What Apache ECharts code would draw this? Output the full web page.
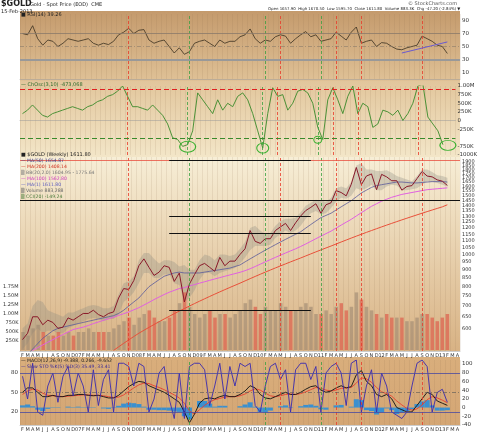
<!DOCTYPE html><html><head><meta charset="utf-8">
<script src="https://cdn.jsdelivr.net/npm/echarts@6/dist/echarts.min.js"></script>
<style>html,body{margin:0;padding:0;background:#fff}#c{width:480px;height:433px}</style></head><body><div id="c"></div>
<script>
const cats=["F","M","A","M","J","J","A","S","O","N","D",
"07","F","M","A","M","J","J","A","S","O","N","D",
"08","F","M","A","M","J","J","A","S","O","N","D",
"09","F","M","A","M","J","J","A","S","O","N","D",
"10","F","M","A","M","J","J","A","S","O","N","D",
"11","F","M","A","M","J","J","A","S","O","N","D",
"12","F","M","A","M","J","J","A","S","O","N","D",
"13","F","M","A"];
const price=[555,580,650,650,615,635,625,600,605,645,635,
650,665,665,680,660,650,665,672,740,790,785,835,
925,970,915,865,885,925,915,830,880,720,815,870,
925,940,915,890,980,925,955,955,1000,1040,1180,1095,
1080,1115,1115,1180,1210,1240,1180,1245,1305,1355,1385,1420,
1330,1410,1430,1555,1535,1500,1625,1825,1620,1720,1745,1565,
1740,1710,1665,1665,1560,1600,1610,1690,1775,1720,1710,1675,
1660,1611.8];
const bandUpper=[600,620,700,730,720,680,670,660,650,670,670,
680,690,700,705,700,690,690,700,760,820,830,860,
960,1010,1010,970,940,960,960,950,920,930,900,900,
960,1000,990,960,1000,1000,990,1000,1040,1090,1200,1220,
1180,1150,1160,1220,1260,1280,1280,1290,1340,1400,1430,1460,
1450,1440,1480,1580,1600,1580,1650,1850,1880,1800,1800,1780,
1780,1790,1760,1720,1700,1680,1660,1720,1800,1800,1770,1730,
1720,1700];
const bandLower=[520,540,580,600,580,590,590,580,580,600,610,
620,630,640,645,640,630,640,640,660,720,740,770,
820,880,880,850,850,870,870,820,810,720,740,780,
840,880,880,860,880,890,900,910,940,980,1030,1060,
1060,1060,1070,1120,1150,1180,1160,1180,1220,1280,1330,1350,
1320,1330,1380,1440,1480,1470,1500,1580,1560,1580,1620,1560,
1560,1600,1620,1610,1560,1560,1570,1580,1620,1660,1650,1640,
1620,1600];
const ma50=[480,500,520,540,560,575,590,600,605,610,615,
620,625,630,635,640,645,650,655,665,680,700,720,
740,770,800,820,840,860,870,880,885,880,880,880,
880,885,890,895,900,905,910,920,930,950,970,990,
1010,1030,1050,1070,1090,1110,1130,1150,1170,1200,1230,1260,
1290,1310,1330,1360,1390,1420,1450,1490,1530,1560,1590,1610,
1620,1630,1640,1650,1650,1645,1640,1640,1645,1650,1655,1655,
1655,1650];
const ma100=[null,null,515,525,535,545,555,565,575,585,595,
600,605,612,620,627,634,641,648,656,664,672,682,
692,705,718,732,745,758,770,780,790,795,805,812,
820,828,836,844,852,860,868,876,884,894,906,920,
935,950,965,980,995,1010,1025,1040,1057,1075,1095,1115,
1135,1155,1175,1200,1225,1250,1275,1305,1335,1365,1395,1420,
1445,1465,1485,1500,1515,1525,1535,1545,1555,1565,1570,1575,
1580,1585];
const ma200=[null,null,null,null,null,null,null,null,null,null,null,
null,null,null,null,null,null,null,515,528,541,554,567,
580,592,604,616,628,640,652,664,676,688,700,712,
724,736,748,760,772,784,796,808,820,833,846,859,
872,885,898,911,924,937,950,963,976,990,1004,1018,
1032,1046,1060,1075,1090,1105,1120,1135,1150,1165,1180,1195,
1210,1225,1240,1255,1270,1285,1300,1315,1330,1345,1360,1375,
1390,1410];
const volume=[0.5,0.4,0.6,0.7,0.5,0.4,0.4,0.5,0.4,0.5,0.4,
0.5,0.5,0.6,0.5,0.5,0.5,0.5,0.6,0.7,0.8,0.9,0.7,
0.9,1.0,1.1,0.9,0.8,0.8,0.9,1.1,1.3,1.6,1.2,1.0,
0.9,1.0,1.1,0.9,1.0,1.0,0.9,1.0,1.1,1.3,1.4,1.2,
1.0,1.2,1.1,1.1,1.3,1.2,1.1,1.1,1.2,1.3,1.2,1.0,
1.0,1.1,1.0,1.2,1.3,1.1,1.2,1.6,1.4,1.2,1.1,1.0,
0.9,1.0,0.9,0.9,0.9,0.8,0.8,0.9,1.0,1.0,0.9,0.8,
0.9,1.0];
const rsi=[70,68,82,62,52,60,58,50,55,62,60,
58,60,62,55,52,55,53,58,68,72,78,70,
75,76,60,55,58,60,50,40,48,38,42,55,
58,60,55,50,60,55,58,58,65,68,77,62,
55,60,58,65,68,66,55,62,68,73,65,68,
58,60,62,72,66,60,72,80,55,58,60,50,
56,55,50,46,45,48,50,52,66,62,58,52,
50,39.26];
const chosc=[200,300,450,300,150,100,200,250,300,350,400,
350,300,400,450,550,600,700,750,850,1000,700,400,
400,350,300,450,300,150,-100,-500,-550,-750,-700,-300,
800,600,400,200,600,300,500,400,700,800,600,200,
-300,-800,200,950,700,750,300,500,850,900,800,500,
-200,-550,600,950,600,200,700,1000,200,500,400,-200,
-100,300,250,150,300,0,200,500,1000,1050,100,-100,
-300,-700];
const sto=[75,40,95,20,15,60,80,35,75,90,45,
80,60,20,85,30,70,85,20,95,95,90,60,
95,90,20,40,80,90,40,10,80,10,90,95,
95,85,30,60,95,40,90,60,95,90,95,30,
20,60,90,95,70,85,20,85,95,95,70,90,
20,80,90,95,80,30,95,100,20,60,85,20,
80,60,20,15,10,20,60,95,100,90,20,50,
55,35];
const macd=[35,45,45,35,25,25,28,25,25,28,28,
30,30,28,27,28,25,22,22,28,38,48,55,
60,58,50,45,40,35,28,20,12,-10,-35,-15,
10,20,22,20,25,28,25,25,30,38,50,45,
30,22,20,25,30,35,30,30,35,42,48,50,
40,35,38,45,50,45,48,75,85,60,50,30,
25,30,20,0,-5,-10,-10,5,20,35,30,15,
10,5];
const signal=[30,38,42,40,33,28,27,26,25,26,27,
28,29,29,28,28,27,25,23,24,29,37,45,
52,56,55,50,46,41,35,29,22,10,-8,-15,
-5,5,13,18,21,24,25,25,27,31,38,43,
40,33,27,25,27,30,31,30,32,36,41,46,
44,40,38,40,44,45,46,56,68,66,58,46,
36,32,26,15,6,-2,-6,-3,6,18,25,22,
17,11];
const hist=[5,7,3,-5,-8,-3,1,-1,0,2,1,
2,1,-1,-1,0,-2,-3,-1,4,9,11,10,
8,2,-5,-5,-6,-6,-7,-9,-10,-20,-27,0,
15,15,9,2,4,4,0,0,3,7,12,2,
-10,-11,-7,0,3,5,-1,0,3,6,7,4,
-4,-5,0,5,6,0,2,19,17,-6,-8,-16,
-11,-2,-6,-15,-11,-8,-4,8,14,17,5,-7,
-7,-6];
const priceTicks=[600,650,700,750,800,850,900,950,1000,1050,1100,1150,1200,1250,1300,1350,1400,1450,1500,1550,1600,1650,1700,1750,1800,1850,1900,1950];
const volTicks=[250000,500000,750000,1000000,1250000,1500000,1750000];
const choscTicks=[-1000000,-750000,-250000,0,250000,500000,750000,1000000];
const macdTicks=[-40,-20,0,20,40,60,80,100];
const redLines=[21,51,62,67,79], greenLines=[33,48,59];
const fib={top:1923.04,f382:1448,f50:1302,f618:1156,bottom:681.6};

const L=Math.log, LEFT=20, RIGHT=20;
const lab={fontSize:5.5,color:'#333',margin:2};
function vlines(){return {silent:true,symbol:'none',label:{show:false},data:[
 ...redLines.map(i=>({xAxis:i,lineStyle:{color:'#e83a2a',type:[3,2],width:0.8}})),
 ...greenLines.map(i=>({xAxis:i,lineStyle:{color:'#3aa040',type:[3,2],width:0.8}}))]};}
function xa(gi,show){return {type:'category',gridIndex:gi,data:cats,boundaryGap:true,
 axisLine:{show:true,lineStyle:{color:'#999',width:0.5}},axisTick:{show:false},
 splitLine:{show:true,lineStyle:{color:'rgba(140,110,80,0.25)',width:0.5}},
 axisLabel:{show:show,interval:0,fontSize:5,color:'#333',margin:2,fontWeight:'normal'}};}
const vol=volume.map(v=>v*1e6);
const ch=chosc.map(v=>v*1000);
const chart=echarts.init(document.getElementById('c'),null,{renderer:'canvas'});
const grad=(a,b)=>({type:'linear',x:0,y:0,x2:0,y2:1,colorStops:[{offset:0,color:a},{offset:1,color:b}]});
const T=(x,y,t,s,o)=>Object.assign({type:'text',left:x,top:y,z:50,style:Object.assign({text:t,fontSize:s||5.5,fill:'#222',fontFamily:'DejaVu Sans'},o||{})});
chart.setOption({
 animation:false,backgroundColor:'#fff',
 textStyle:{fontFamily:'DejaVu Sans'},
 graphic:[
  {type:'rect',shape:{x:LEFT,y:11,width:440,height:70},style:{fill:grad('#c49a6c','#dfc196')},z:-10},
  {type:'rect',shape:{x:LEFT,y:81,width:440,height:76},style:{fill:grad('#e2c69c','#f3e6c8')},z:-10},
  {type:'rect',shape:{x:LEFT,y:157,width:440,height:194},style:{fill:grad('#f7eed6','#d8b284')},z:-10},
  {type:'rect',shape:{x:LEFT,y:357,width:440,height:68},style:{fill:grad('#d9ae7c','#d4a674')},z:-10},
  T(1,0,'$GOLD',8,{fontWeight:'bold'}),T(30,2,'Gold - Spot Price (EOD)  CME',5),T(1,9,'15-Feb-2013',5),
  T(408,1,'© StockCharts.com',5,{fill:'#555'}),
  T(268,7,'Open 1657.90  High 1670.50  Low 1595.70  Close 1611.80  Volume 883.3K  Chg -47.20 (-2.84%) ▼',3.9),
  T(21,12,'■ RSI(14) 39.26',5),
  T(21,82,'— ChOsc(3,10) -473,068',5,{fill:'#2a6a2a'}),
  T(21,152,'■ $GOLD (Weekly) 1611.80',5),
  T(21,158,'— MA(50) 1654.87',4.6,{fill:'#3a3a8a'}),
  T(21,164,'— MA(200) 1408.14',4.6,{fill:'#d03020'}),
  T(21,170,'▒ BB(20,2.0) 1604.95 - 1775.64',4.6,{fill:'#777'}),
  T(21,176,'— MA(100) 1562.80',4.6,{fill:'#d040c0'}),
  T(21,182,'— MA(1) 1611.80',4.6,{fill:'#6060c0'}),
  T(21,188,'▒ Volume 883,288',4.6,{fill:'#666'}),
  T(21,194,'▒ CCI(20) -149.24',4.6,{fill:'#4a7a3a'}),
  T(21,358,'— MACD(12,26,9) -9.388, 0.266, -9.652',4.6),
  T(21,364,'— Slow STO %K(5) %D(3) 35.49, 33.41',4.6,{fill:'#3a2a9a'})
 ],
 grid:[
  {left:LEFT,right:RIGHT,top:14,height:65},
  {left:LEFT,right:RIGHT,top:86,height:69},
  {left:LEFT,right:RIGHT,top:157,height:194},
  {left:LEFT,right:RIGHT,top:157,height:193},
  {left:LEFT,right:RIGHT,top:360,height:65}
 ],
 xAxis:[xa(0,false),xa(1,false),xa(2,true),Object.assign(xa(3,false),{splitLine:{show:false},axisLine:{show:false}}),xa(4,true)],
 yAxis:[
  {gridIndex:0,position:'right',min:0,max:100,interval:10,axisLabel:Object.assign({},lab,{formatter:v=>(v%20===10)?v:''}),splitLine:{show:false},axisLine:{show:false},axisTick:{show:false}},
  {gridIndex:1,position:'right',min:-1000000,max:1000000,axisLabel:Object.assign({},lab,{customValues:choscTicks,formatter:v=>v===1e6?'1.00M':v===0?'0':(v/1000)+'K'}),axisTick:{show:false},splitLine:{show:false},axisLine:{show:false}},
  {gridIndex:2,position:'right',min:L(513),max:L(1962),axisLabel:Object.assign({},lab,{fontSize:5,customValues:priceTicks.map(L),formatter:v=>Math.round(Math.exp(v))}),axisTick:{show:false},splitLine:{show:false},axisLine:{show:false}},
  {gridIndex:3,position:'left',min:0,max:5360000,axisLabel:Object.assign({},lab,{fontSize:5,customValues:volTicks,formatter:v=>v>=1e6?(v/1e6).toFixed(2)+'M':(v/1000)+'K'}),axisTick:{show:false},splitLine:{show:false},axisLine:{show:false}},
  {gridIndex:4,position:'left',min:0,max:100,interval:10,axisLabel:Object.assign({},lab,{formatter:v=>(v===80||v===50||v===20)?v:''}),axisTick:{show:false},splitLine:{show:false},axisLine:{show:false}},
  {gridIndex:4,position:'right',min:-40,max:109,axisLabel:Object.assign({},lab,{customValues:macdTicks}),axisTick:{show:false},splitLine:{show:false},axisLine:{show:false}}
 ],
 series:[
  {type:'line',xAxisIndex:0,yAxisIndex:0,data:rsi,symbol:'none',lineStyle:{color:'#3a3020',width:0.8},
   markLine:{silent:true,symbol:'none',label:{show:false},data:[
    ...vlines().data,
    {yAxis:70,lineStyle:{color:'#8a7a6a',type:'solid',width:0.8}},
    {yAxis:50,lineStyle:{color:'#8a7a6a',type:[4,2,1,2],width:0.6}},
    {yAxis:30,lineStyle:{color:'#999',type:'solid',width:2}},
    [{coord:[75,40]},{coord:[84,57],lineStyle:{color:'#6a5ad0',type:'solid',width:1}}]]}},
  {type:'line',xAxisIndex:1,yAxisIndex:1,data:ch,symbol:'none',lineStyle:{color:'#3a8a2a',width:0.9},
   markLine:{silent:true,symbol:'none',label:{show:false},data:[
    ...vlines().data,
    {yAxis:900000,lineStyle:{color:'#e02020',type:[5,3],width:1.2}},
    {yAxis:-500000,lineStyle:{color:'#3a8a2a',type:[5,3],width:1.2}}]},
   markPoint:{silent:true,label:{show:false},data:[
    {coord:[33,-760000],symbol:'circle',symbolSize:[16,11],itemStyle:{color:'transparent',borderColor:'#3ab030',borderWidth:1}},
    {coord:[48,-800000],symbol:'circle',symbolSize:[12,10],itemStyle:{color:'transparent',borderColor:'#3ab030',borderWidth:1}},
    {coord:[59,-560000],symbol:'circle',symbolSize:[8,7],itemStyle:{color:'transparent',borderColor:'#3ab030',borderWidth:1}},
    {coord:[85,-720000],symbol:'circle',symbolSize:[16,10],itemStyle:{color:'transparent',borderColor:'#3ab030',borderWidth:1}},
    {coord:[67,1050000],symbol:'circle',symbolSize:[10,11],itemStyle:{color:'transparent',borderColor:'#e02020',borderWidth:1}},
    {coord:[79,1080000],symbol:'circle',symbolSize:[10,11],itemStyle:{color:'transparent',borderColor:'#e02020',borderWidth:1}}]}},
  {type:'bar',xAxisIndex:3,yAxisIndex:3,data:vol,barWidth:'70%',
   itemStyle:{color:p=>p.dataIndex>0&&price[p.dataIndex]<price[p.dataIndex-1]?'rgba(220,100,80,0.75)':'rgba(150,130,110,0.55)'}},
  {type:'line',xAxisIndex:2,yAxisIndex:2,data:bandLower.map(L),symbol:'none',lineStyle:{width:0},stack:'bb',z:1},
  {type:'line',xAxisIndex:2,yAxisIndex:2,data:bandUpper.map((u,i)=>L(u)-L(bandLower[i])),symbol:'none',lineStyle:{width:0},stack:'bb',areaStyle:{color:'rgba(140,140,130,0.45)'},z:1},
  {type:'line',xAxisIndex:2,yAxisIndex:2,data:ma200.map(v=>v==null?null:L(v)),symbol:'none',lineStyle:{color:'#e8503a',width:1}},
  {type:'line',xAxisIndex:2,yAxisIndex:2,data:ma100.map(v=>v==null?null:L(v)),symbol:'none',lineStyle:{color:'#e060e0',width:1}},
  {type:'line',xAxisIndex:2,yAxisIndex:2,data:ma50.map(L),symbol:'none',lineStyle:{color:'#5a5a9a',width:0.8}},
  {type:'line',xAxisIndex:2,yAxisIndex:2,data:price.map(L),symbol:'none',lineStyle:{color:'#8a1a2a',width:1},
   markLine:{silent:true,symbol:'none',label:{show:false},data:[
    ...vlines().data,
    {yAxis:L(fib.top),lineStyle:{color:'#e85040',type:'solid',width:0.8}},
    {yAxis:L(fib.f382),lineStyle:{color:'#111',type:'solid',width:1}},
    [{coord:[29,L(fib.top)]},{coord:[57,L(fib.top)],lineStyle:{color:'#111',type:'solid',width:1}}],
    [{coord:[29,L(fib.f50)]},{coord:[57,L(fib.f50)],lineStyle:{color:'#111',type:'solid',width:1}}],
    [{coord:[29,L(fib.f618)]},{coord:[57,L(fib.f618)],lineStyle:{color:'#111',type:'solid',width:1}}],
    [{coord:[29,L(fib.bottom)]},{coord:[57,L(fib.bottom)],lineStyle:{color:'#111',type:'solid',width:1}}]]}},
  {type:'bar',xAxisIndex:4,yAxisIndex:5,data:hist,barWidth:'100%',itemStyle:{color:'#3a90d0'}},
  {type:'line',xAxisIndex:4,yAxisIndex:5,data:signal,symbol:'none',lineStyle:{color:'#e84030',width:0.9}},
  {type:'line',xAxisIndex:4,yAxisIndex:5,data:macd,symbol:'none',lineStyle:{color:'#111',width:0.9}},
  {type:'line',xAxisIndex:4,yAxisIndex:4,data:sto,symbol:'none',lineStyle:{color:'#3a2ab0',width:0.9},
   markLine:{silent:true,symbol:'none',label:{show:false},data:[
    ...vlines().data,
    {yAxis:80,lineStyle:{color:'#4a4aa0',type:'solid',width:0.8}},
    {yAxis:20,lineStyle:{color:'#4a4aa0',type:'solid',width:0.8}},
    {yAxis:50,lineStyle:{color:'#555',type:[4,2,1,2],width:0.6}}]}}
 ]
});
</script></body></html>
